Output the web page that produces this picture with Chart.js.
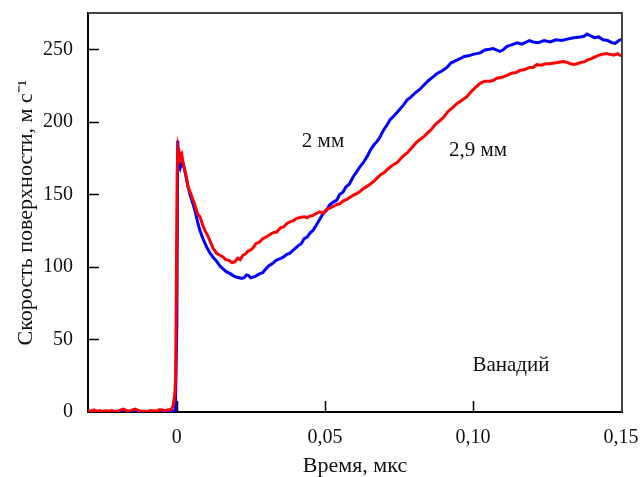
<!DOCTYPE html>
<html>
<head>
<meta charset="utf-8">
<script src="https://cdn.jsdelivr.net/npm/chart.js@4.4.1/dist/chart.umd.min.js"></script>
<style>
  body { margin: 0; background: #fff; }
</style>
</head>
<body>
<canvas id="myChart" width="641" height="477"></canvas>
<script>
// time, us
const blueTime = [-0.030, -0.025, -0.020, -0.015, -0.010, -0.005, -0.002, -0.0005, 0.0000, 0.0003,
  0.0007, 0.0011, 0.0015, 0.0019, 0.0023, 0.0030, 0.0037, 0.0044, 0.0052, 0.0061,
  0.0070, 0.0078, 0.0089, 0.0100, 0.0112, 0.0123, 0.0134, 0.0146, 0.0157, 0.0168,
  0.0179, 0.0190, 0.0200, 0.0210, 0.0219, 0.0227, 0.0235, 0.0242, 0.0250, 0.0257,
  0.0265, 0.0273, 0.0282, 0.0290, 0.0300, 0.0312, 0.0324, 0.0335, 0.0347, 0.0358,
  0.0370, 0.0382, 0.0395, 0.0409, 0.0420, 0.0430, 0.0440, 0.0450, 0.0459, 0.0470,
  0.0480, 0.0493, 0.0505, 0.0515, 0.0527, 0.0540, 0.0550, 0.0561, 0.0570, 0.0582,
  0.0595, 0.0605, 0.0618, 0.0630, 0.0642, 0.0655, 0.0665, 0.0676, 0.0686, 0.0697,
  0.0710, 0.0720, 0.0735, 0.0750, 0.0765, 0.0777, 0.0790, 0.0805, 0.0821, 0.0835,
  0.0850, 0.0865, 0.0880, 0.0895, 0.0912, 0.0925, 0.0940, 0.0956, 0.0970, 0.0985,
  0.1000, 0.1012, 0.1024, 0.1040, 0.1055, 0.1068, 0.1080, 0.1090, 0.1101, 0.1115,
  0.1130, 0.1149, 0.1165, 0.1180, 0.1190, 0.1203, 0.1220, 0.1240, 0.1260, 0.1280,
  0.1300, 0.1318, 0.1340, 0.1361, 0.1375, 0.1385, 0.1395, 0.1410, 0.1425, 0.1439,
  0.1455, 0.1470, 0.1480, 0.1492, 0.1505];
// 2 mm, m/s
const blueSpeed = [0.5, 0.3, 0.5, 0.2, 0.4, 0.3, 0.5, 1, 60, 187,
  170, 168, 171, 173, 170, 163, 156, 150, 145, 139,
  131, 125, 119, 114, 109.5, 106.5, 104, 100.5, 98.5, 96.5,
  95.5, 94, 93, 92.5, 92, 92.5, 94.5, 94, 92.5, 93,
  93.5, 94.5, 95.5, 96, 98.5, 101, 102.5, 104.5, 105.5, 106.5,
  108.5, 109.5, 112, 114.5, 116, 119.5, 120.5, 123.5, 125, 128.5,
  132, 136.5, 139, 142.5, 144.5, 146, 150, 151.5, 155, 157,
  162, 165, 169, 172, 176, 181, 184, 186.5, 189.5, 194,
  198, 201.5, 204.5, 208, 211.5, 215, 217, 220, 222.5, 225.5,
  228.5, 231, 233.5, 235, 237.5, 240.5, 242, 243.5, 245, 245.5,
  246.5, 247, 247.5, 249.5, 250, 250.5, 249.5, 248.5, 249.5, 252,
  253, 254.5, 253.5, 255, 256, 255, 254.5, 256, 255, 256.5,
  256, 257, 258, 258.5, 259, 260.5, 259.5, 258, 258.5, 256.5,
  256, 254.5, 254, 256, 257];

const redTime = [-0.0302, -0.029, -0.028, -0.027, -0.026, -0.025, -0.024, -0.023, -0.022, -0.021,
  -0.020, -0.019, -0.018, -0.017, -0.016, -0.015, -0.014, -0.013, -0.012, -0.011,
  -0.010, -0.009, -0.008, -0.007, -0.006, -0.005, -0.004, -0.003, -0.002, -0.0013,
  -0.0007, -0.0004, -0.0002, 0.0001, 0.0004, 0.0007, 0.0010, 0.0013, 0.0016, 0.0021,
  0.0028, 0.0033, 0.0038, 0.0046, 0.0055, 0.0062, 0.0070, 0.0078, 0.0087, 0.0095,
  0.0103, 0.0111, 0.0122, 0.0134, 0.0145, 0.0155, 0.0165, 0.0176, 0.0186, 0.0196,
  0.0205, 0.0214, 0.0223, 0.0232, 0.0240, 0.0248, 0.0257, 0.0267, 0.0278, 0.0290,
  0.0300, 0.0312, 0.0324, 0.0337, 0.0350, 0.0360, 0.0372, 0.0382, 0.0395, 0.0405,
  0.0416, 0.0430, 0.0440, 0.0449, 0.0460, 0.0472, 0.0483, 0.0495, 0.0505, 0.0516,
  0.0527, 0.0540, 0.0550, 0.0562, 0.0574, 0.0585, 0.0597, 0.0607, 0.0618, 0.0630,
  0.0642, 0.0652, 0.0662, 0.0675, 0.0688, 0.0700, 0.0710, 0.0722, 0.0735, 0.0744,
  0.0753, 0.0765, 0.0780, 0.0797, 0.0810, 0.0822, 0.0835, 0.0845, 0.0858, 0.0872,
  0.0889, 0.0900, 0.0915, 0.0932, 0.0945, 0.0960, 0.0980, 0.0995, 0.1010, 0.1024,
  0.1040, 0.1055, 0.1068, 0.1080, 0.1095, 0.1115, 0.1130, 0.1145, 0.1159, 0.1175,
  0.1190, 0.1203, 0.1215, 0.1230, 0.1245, 0.1260, 0.1275, 0.1290, 0.1305, 0.1318,
  0.1330, 0.1340, 0.1351, 0.1365, 0.1378, 0.1385, 0.1400, 0.1419, 0.1435, 0.1450,
  0.1463, 0.1475, 0.1488, 0.1495, 0.1505];
// 2,9 mm, m/s
const redSpeed = [1, 0.5, 1.5, 0.5, 1, 0.3, 0.8, 0.5, 1, 0.3,
  0.5, 1.5, 2, 1, 0.5, 1.5, 2, 1, 0.5, 0.5,
  0.3, 1, 0.8, 0.5, 1.5, 1.5, 0.8, 1.5, 1.5, 4,
  12, 25, 80, 165, 181.5, 178, 175, 178, 178.5, 171,
  166, 161, 155, 151, 146, 142, 136.5, 134.5, 129, 125,
  122, 118.5, 113, 109.5, 108, 107, 105, 104.5, 103, 103.5,
  106, 105, 108, 109, 111, 111.5, 113, 116, 117, 119.5,
  120.5, 122, 123.5, 124, 127, 127.5, 130, 131, 132, 133.5,
  134, 134.5, 134, 135, 135.5, 137, 138, 137, 139.5, 140.5,
  141.5, 143, 143.5, 145.5, 146.5, 148, 149.5, 150.5, 152, 154,
  155.5, 157, 158.5, 161, 163.5, 165, 167, 169, 171, 172,
  174, 176.5, 179, 183, 186, 188, 190, 192, 194.5, 198,
  201, 203, 207, 210, 212.5, 214.5, 217.5, 221, 224, 226.5,
  228, 228, 228.5, 230, 230.5, 232, 233.5, 234, 235.5, 236,
  237.5, 237.5, 239.5, 239, 240, 240, 240.5, 241, 241.5, 241,
  240, 239.5, 240, 241, 241.5, 242.5, 243.5, 245.5, 246.5, 247,
  246.5, 246, 247, 246, 245.5];

const xTickValues = [0, 0.05, 0.10, 0.15];
const yTickValues = [0, 50, 100, 150, 200, 250];
const xInnerTicks = [0, 0.05, 0.10];
const yInnerTicks = [50, 100, 150, 200, 250];

const serif = "'Liberation Serif', 'Times New Roman', serif";

function toPoints(xs, ys) {
  return xs.map((x, i) => ({ x: x, y: ys[i] }));
}

function formatTime(v) {
  if (v === 0) return "0";
  return v.toFixed(2).replace(".", ",");
}

const framePlugin = {
  id: "frame",
  afterDraw(chart) {
    const ctx = chart.ctx;
    const area = chart.chartArea;
    const xs = chart.scales.x;
    const ys = chart.scales.y;
    ctx.save();
    // top and right sides of the box
    ctx.strokeStyle = "#444";
    ctx.lineWidth = 2;
    ctx.beginPath();
    ctx.moveTo(area.left, area.top);
    ctx.lineTo(area.right, area.top);
    ctx.lineTo(area.right, area.bottom);
    ctx.stroke();
    // inward ticks
    ctx.strokeStyle = "#000";
    ctx.lineWidth = 1.5;
    ctx.beginPath();
    xInnerTicks.forEach(v => {
      const px = Math.round(xs.getPixelForValue(v)) + 0.5;
      ctx.moveTo(px, area.bottom);
      ctx.lineTo(px, area.bottom - 11);
    });
    yInnerTicks.forEach(v => {
      const py = Math.round(ys.getPixelForValue(v)) + 0.5;
      ctx.moveTo(area.left, py);
      ctx.lineTo(area.left + 11, py);
    });
    ctx.stroke();
    // labels
    ctx.fillStyle = "#111";
    ctx.font = "21px " + serif;
    ctx.textAlign = "center";
    ctx.textBaseline = "middle";
    ctx.fillText("2 мм", 323, 141);
    ctx.fillText("2,9 мм", 478, 150);
    ctx.fillText("Ванадий", 511, 365);
    ctx.restore();
  }
};

const config = {
  type: "line",
  data: {
    datasets: [
      {
        label: "2,9 мм",
        data: toPoints(redTime, redSpeed),
        borderColor: "rgb(255, 0, 0)",
        borderWidth: 3,
        pointRadius: 0,
        tension: 0
      },
      {
        label: "2 мм",
        data: toPoints(blueTime, blueSpeed),
        borderColor: "rgb(0, 0, 255)",
        borderWidth: 3,
        pointRadius: 0,
        tension: 0
      }
    ]
  },
  options: {
    responsive: false,
    animation: false,
    layout: { padding: { top: 13, right: 19, left: 0, bottom: 0 } },
    plugins: { legend: { display: false }, tooltip: { enabled: false } },
    scales: {
      x: {
        type: "linear",
        min: -0.0300,
        max: 0.1503,
        afterBuildTicks: scale => { scale.ticks = xTickValues.map(v => ({ value: v })); },
        afterFit: scale => {
          scale.height = 65;
          scale.paddingLeft = 0;
          scale.paddingRight = 0;
        },
        grid: { drawOnChartArea: false, drawTicks: false },
        border: { color: "#000", width: 2 },
        ticks: {
          padding: 14,
          color: "#111",
          font: { family: serif, size: 20 },
          maxRotation: 0,
          callback: v => formatTime(v)
        },
        title: {
          display: true,
          text: "Время, мкс",
          color: "#111",
          font: { family: serif, size: 22 },
          padding: { top: 0, bottom: -2 }
        }
      },
      y: {
        min: 0,
        max: 275,
        afterBuildTicks: scale => { scale.ticks = yTickValues.map(v => ({ value: v })); },
        afterFit: scale => {
          scale.width = 88;
          scale.paddingTop = 0;
          scale.paddingBottom = 0;
        },
        grid: { drawOnChartArea: false, drawTicks: false },
        border: { color: "#000", width: 2 },
        ticks: {
          padding: 15,
          color: "#111",
          font: { family: serif, size: 20 }
        },
        title: {
          display: true,
          text: "Скорость поверхности, м с⁻¹",
          color: "#111",
          font: { family: serif, size: 22 },
          padding: { top: 13, bottom: 0 }
        }
      }
    }
  },
  plugins: [framePlugin]
};

const myChart = new Chart(document.getElementById("myChart"), config);
</script>
</body>
</html>
